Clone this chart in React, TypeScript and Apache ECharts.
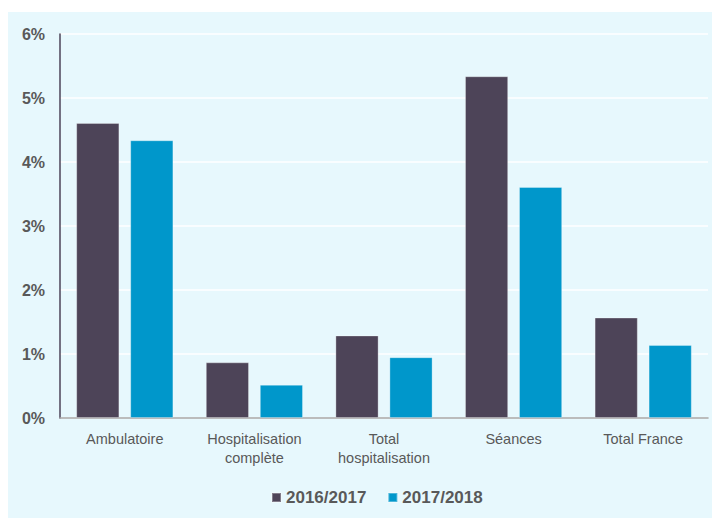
import React, { useEffect, useRef } from "react";
import * as echarts from "echarts";

const categories = ["Ambulatoire", "Hospitalisation\ncomplète", "Total\nhospitalisation", "Séances", "Total France"];
const series2016 = [4.61, 0.87, 1.29, 5.34, 1.57];
const series2017 = [4.34, 0.52, 0.95, 3.61, 1.14];
const seriesNames = ["2016/2017", "2017/2018"];
const yTicks = [0, 1, 2, 3, 4, 5, 6];

export default function App() {
  const ref = useRef<HTMLDivElement>(null);
  useEffect(() => {
    if (!ref.current) return;
    const chart = echarts.init(ref.current, null, { renderer: "svg" });
    chart.setOption({
      animation: false,
      backgroundColor: "#E7F8FD",
      grid: { left: 52, right: 12, top: 22, bottom: 100 },
      legend: {
        data: seriesNames,
        left: 258,
        top: 472,
        itemWidth: 9,
        itemHeight: 9,
        itemGap: 21,
        icon: "rect",
        textStyle: { fontFamily: "Liberation Sans, Arial", fontWeight: "bold", fontSize: 17, color: "#595959" },
      },
      xAxis: {
        type: "category",
        data: categories,
        axisLine: { lineStyle: { color: "#A6A6A6", width: 1.5 } },
        axisTick: { show: false },
        axisLabel: {
          margin: 11,
          fontFamily: "Liberation Sans, Arial",
          fontSize: 14.5,
          lineHeight: 19.5,
          color: "#595959",
          interval: 0,
        },
      },
      yAxis: {
        type: "value",
        min: yTicks[0],
        max: yTicks[yTicks.length - 1],
        interval: 1,
        axisLine: { show: true, lineStyle: { color: "#4D4458", width: 1.5 } },
        axisTick: { show: false },
        splitLine: { lineStyle: { color: "#FFFFFF", width: 1.5 } },
        axisLabel: {
          margin: 15,
          fontFamily: "Liberation Sans, Arial",
          fontWeight: "bold",
          fontSize: 16,
          color: "#595959",
          formatter: (v: number) => v + "%",
        },
      },
      series: [
        {
          name: seriesNames[0],
          type: "bar",
          data: series2016,
          barGap: "25%",
          barCategoryGap: "25%",
          itemStyle: { color: "#4D4458", borderColor: "rgba(255,255,255,0.3)", borderWidth: 1 },
        },
        {
          name: seriesNames[1],
          type: "bar",
          data: series2017,
          barGap: "25%",
          barCategoryGap: "25%",
          itemStyle: { color: "#0097CB", borderColor: "rgba(255,255,255,0.3)", borderWidth: 1 },
        },
      ],
    });
    return () => chart.dispose();
  }, []);
  return (
    <div style={{ paddingTop: 4 }}>
      <div ref={ref} style={{ width: 712, height: 506 }} />
    </div>
  );
}
